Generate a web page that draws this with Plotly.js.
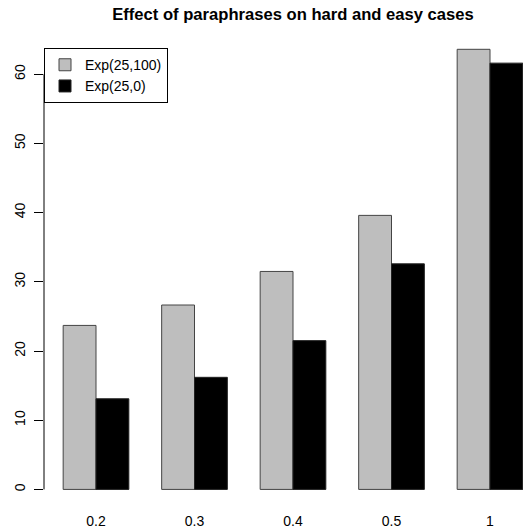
<!DOCTYPE html>
<html>
<head>
<meta charset="utf-8">
<script src="https://cdn.plot.ly/plotly-3.0.1.min.js"></script>
<style>html,body{margin:0;padding:0;background:#fff;}#chart{width:523px;height:528px;}</style>
</head>
<body>
<div id="chart"></div>
<script>
var categories = ["0.2", "0.3", "0.4", "0.5", "1"];
var seriesNames = ["Exp(25,100)", "Exp(25,0)"];
var exp25_100 = [23.7, 26.65, 31.5, 39.6, 63.6];
var exp25_0 = [13.1, 16.2, 21.5, 32.6, 61.6];
var yTicks = [0, 10, 20, 30, 40, 50, 60];

var font = "Liberation Sans, Arial, sans-serif";
var traces = [
  {type: "bar", name: seriesNames[0], x: categories, y: exp25_100,
   marker: {color: "#bebebe", line: {color: "#444", width: 1}}},
  {type: "bar", name: seriesNames[1], x: categories, y: exp25_0,
   marker: {color: "#000000", line: {color: "#222", width: 1}}}
];
var layout = {
  width: 523, height: 528,
  margin: {l: 44, r: 0, t: 32, b: 21, pad: 0},
  paper_bgcolor: "#fff", plot_bgcolor: "#fff",
  font: {family: font, size: 14, color: "#000"},
  title: {text: "<b>Effect of paraphrases on hard and easy cases</b>",
          font: {family: font, size: 16.6, color: "#000"},
          x: 293 / 523, xref: "container", xanchor: "center",
          y: 1 - 14 / 528, yref: "container", yanchor: "middle"},
  barmode: "group", bargap: 0.3333, bargroupgap: 0,
  showlegend: true,
  legend: {x: 0, y: 0.966, xanchor: "left", yanchor: "top",
           bordercolor: "#000", borderwidth: 1, bgcolor: "#fff",
           font: {family: font, size: 14, color: "#000"}, tracegroupgap: 0},
  xaxis: {type: "category", range: [-0.528, 4.335], showline: false, ticks: "",
          showgrid: false, zeroline: false, tickfont: {size: 14}, ticklabelstandoff: 4},
  yaxis: {range: [-2.54, 66.1], tickvals: yTicks, ticktext: yTicks.map(String),
          ticks: "outside", ticklen: 9, tickcolor: "#000", tickwidth: 1,
          showline: false, showgrid: false, zeroline: false, tickangle: -90,
          tickfont: {size: 14}, ticklabelstandoff: 3},
  shapes: [{type: "line", xref: "paper", x0: 0, x1: 0, yref: "y", y0: 0, y1: 60,
            line: {color: "#000", width: 1}}]
};
Plotly.newPlot("chart", traces, layout, {displayModeBar: false, staticPlot: true});
</script>
</body>
</html>
